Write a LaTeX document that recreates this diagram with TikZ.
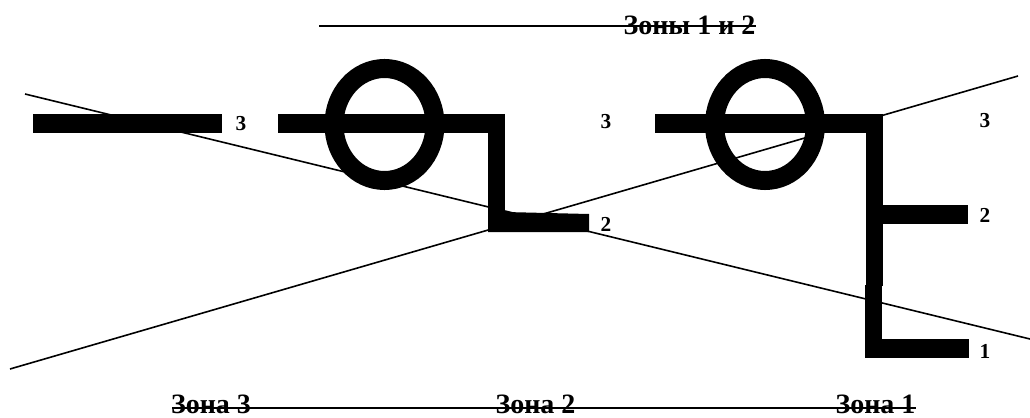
\documentclass[tikz,border=0pt]{standalone}
\usepackage{fontspec}
\setmainfont{Liberation Serif}

\begin{document}
\begin{tikzpicture}[x=.75pt,y=-.75pt,bar/.style={line width=14.25pt},post/.style={line width=12.4pt},ring/.style={line width=14.25pt},thin line/.style={line width=1.2pt},zone/.style={font=\bfseries\fontsize{21}{21}\selectfont,inner sep=0pt},num/.style={font=\bfseries\fontsize{16}{16}\selectfont,inner sep=0pt}]
\useasboundingbox (0,0) rectangle (1030,417);
% distance lines
\coordinate (a1) at (25,94); \coordinate (a2) at (1030,339);
\coordinate (b1) at (10,369); \coordinate (b2) at (1018,76);
\draw[thin line] (a1)--(a2);
\draw[thin line] (b1)--(b2);
% rings
\draw[ring] (384.5,124.5) ellipse (50.5 and 56);
\draw[ring] (765,124.5) ellipse (50.5 and 56);
% contacts
\draw[bar] (33,123.5)--(222,123.5);
\draw[bar] (278,123.5)--(505,123.5);
\draw[post] (496.5,114)--(496.5,232);
\fill (488,232)--(589,232)--(589,214)--(505,212)--(488,212)--cycle;
\draw[bar] (655,123.5)--(882,123.5);
\draw[post] (874.5,114)--(874.5,286);
\draw[post] (873.5,285)--(873.5,358);
\draw[bar] (865,348.5)--(969,348.5);
\draw[bar] (874,214.5)--(968,214.5);
% contact numbers
\node[num] (n1) at (241,124) {3};
\node[num] (n2) at (606,122) {3};
\node[num] (n3) at (985,121) {3};
\node[num] (n4) at (606,224) {2};
\node[num] (n5) at (985,215) {2};
\node[num] (n6) at (985,351) {1};
% zones
\node[zone] (zone12) at (689.5,25) {Зоны 1 и 2};
\node[zone] (zone3) at (211,404) {Зона 3};
\node[zone] (zone2) at (535.5,404) {Зона 2};
\node[zone] (zone1) at (875.5,404) {Зона 1};
\coordinate (top) at (319,26);
\coordinate (low) at (172,408);
\draw[line width=1.5pt] (top)--(top-|zone12.east);
\draw[line width=1.5pt] (low)--(low-|zone1.east);
\end{tikzpicture}
\end{document}
